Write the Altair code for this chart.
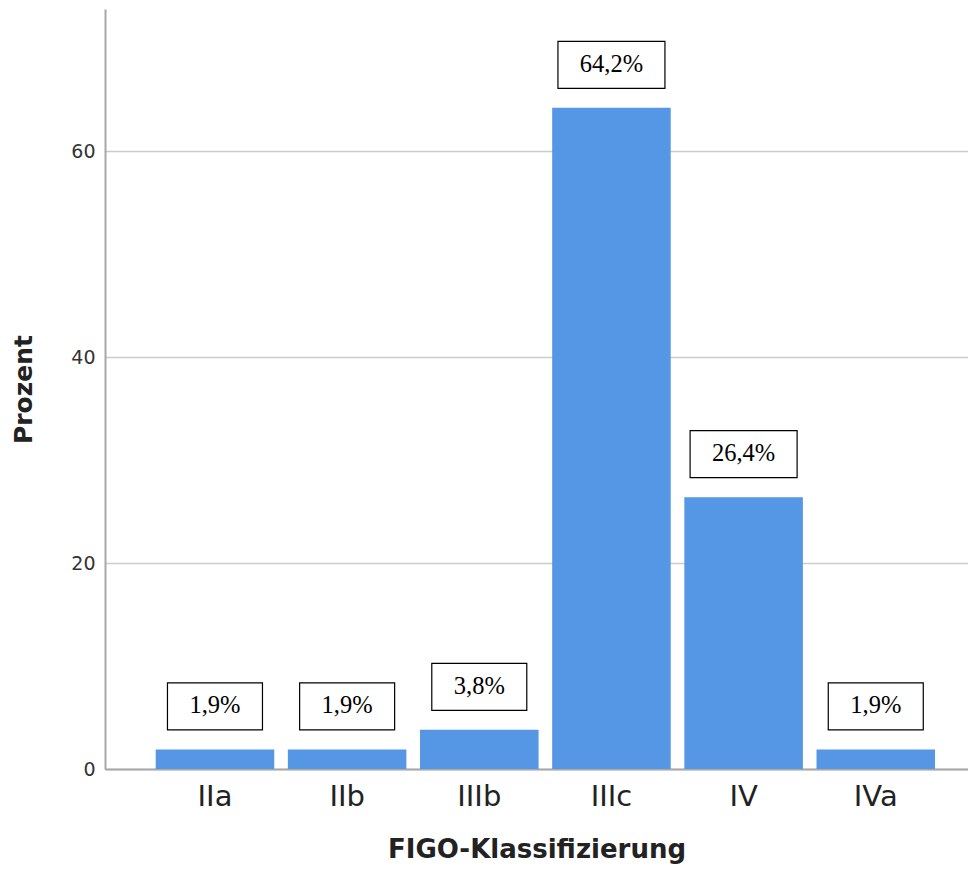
import altair as alt
import pandas as pd

categories = ["IIa", "IIb", "IIIb", "IIIc", "IV", "IVa"]
percent = [1.9, 1.9, 3.8, 64.2, 26.4, 1.9]
labels = [f"{v:.1f}".replace(".", ",") + "%" for v in percent]
y_ticks = [0, 20, 40, 60]

df = pd.DataFrame({"cat": categories, "pct": percent, "label": labels})

BAR = "#5596E5"
x_enc = alt.X("cat:N", sort=categories,
              scale=alt.Scale(paddingInner=0.103, paddingOuter=0.3165, align=0.606),
              axis=alt.Axis(title="FIGO-Klassifizierung", labelAngle=0, tickSize=0,
                            labelPadding=13, labelFont="DejaVu Sans", labelFontSize=29,
                            labelColor="#222222", titleFont="DejaVu Sans", titleFontSize=26,
                            titleFontWeight="bold", titleColor="#222222", titlePadding=25,
                            domainColor="#a8a8a8", domainWidth=2, grid=False))
y_scale = alt.Scale(domain=[0, 73.8], nice=False, zero=True)

bars = alt.Chart(df).mark_bar(color=BAR).encode(
    x=x_enc,
    y=alt.Y("pct:Q", scale=y_scale,
            axis=alt.Axis(title="Prozent", values=y_ticks, tickSize=0, labelPadding=10,
                          labelFont="DejaVu Sans", labelFontSize=19, labelColor="#333333",
                          titleFont="DejaVu Sans", titleFontSize=25, titleFontWeight="bold",
                          titleColor="#222222", titlePadding=34,
                          domainColor="#a8a8a8", domainWidth=2,
                          grid=True, gridColor="#cccccc", gridWidth=1.5)),
)

shape_expr = ("length(datum.label) > 4 ? 'M-1,-0.439H1V0.439H-1Z' : 'M-1,-0.495H1V0.495H-1Z'")
size_expr = "length(datum.label) > 4 ? 107*107 : 95*95"

boxes = alt.Chart(df).transform_calculate(
    shp=shape_expr, sz=size_expr
).mark_point(filled=True, fill="white", stroke="black", strokeWidth=1.2,
             opacity=1, yOffset=-43).encode(
    x=alt.X("cat:N", sort=categories),
    y=alt.Y("pct:Q"),
    shape=alt.Shape("shp:N", scale=None),
    size=alt.Size("sz:Q", scale=None),
)

texts = alt.Chart(df).mark_text(font="Liberation Serif", fontSize=24.5, color="black",
                                baseline="middle", align="center", yOffset=-43).encode(
    x=alt.X("cat:N", sort=categories),
    y=alt.Y("pct:Q"),
    text="label:N",
)

chart = alt.layer(bars, boxes, texts).properties(
    width=863, height=760,
    background="white",
    autosize=alt.AutoSizeParams(type="none"),
    padding={"left": 97, "top": 1, "right": 0, "bottom": 98},
).configure_view(strokeWidth=0)

chart.save("out.html", embed_options={"renderer": "svg", "actions": False})
